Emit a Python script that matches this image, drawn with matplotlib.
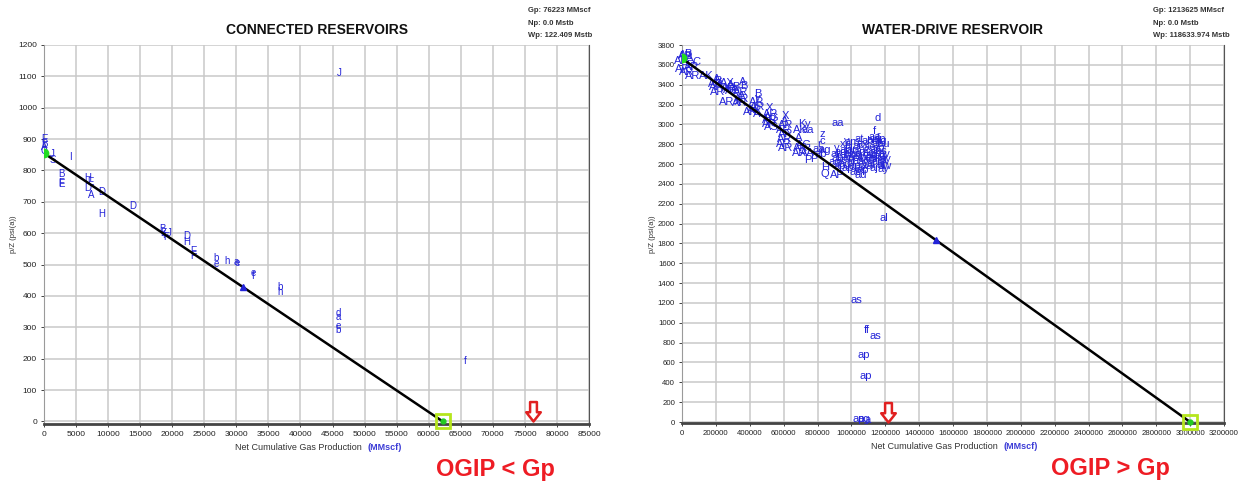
import matplotlib
matplotlib.use("Agg")
import matplotlib.pyplot as plt
from matplotlib.path import Path
import numpy as np

plt.rcParams['font.family'] = ['Liberation Sans', 'DejaVu Sans']

# ---- connected reservoirs (left) ----
left_title = "CONNECTED RESERVOIRS"
left_info = ["Gp: 76223 MMscf", "Np: 0.0 Mstb", "Wp: 122.409 Mstb"]
left_gp = 76223
left_ogip = 62200
left_line_x = [0, 62200]
left_line_y = [855, 0]
left_blue_pt = (31100, 429)
left_labels = ["E", "B", "A", "C", "I", "J", "S", "I", "B", "F", "E", "H", "E", "D",
               "A", "D", "D", "H", "B", "E", "I", "F", "J", "D", "H", "E", "F", "b",
               "e", "h", "a", "e", "e", "f", "b", "h", "d", "a", "e", "b", "f", "J"]
left_x = [0, 0, 0, 0, 0, 1300, 1300, 4200, 2700, 2700, 2700, 6850, 7300, 6850,
          7350, 9000, 13800, 9000, 18500, 18600, 18700, 19000, 19500, 22300, 22300, 23300, 23200, 26900,
          26800, 28500, 30000, 30100, 32600, 32700, 36800, 36800, 45900, 45900, 45900, 45900, 65700, 46000]
left_y = [900, 885, 875, 862, 850, 852, 835, 842, 790, 760, 756, 776, 764, 745,
          722, 730, 688, 660, 612, 602, 594, 588, 600, 590, 572, 542, 528, 520,
          503, 511, 508, 504, 474, 465, 430, 412, 347, 332, 305, 292, 192, 1112]

# ---- water-drive reservoir (right) ----
right_title = "WATER-DRIVE RESERVOIR"
right_info = ["Gp: 1213625 MMscf", "Np: 0.0 Mstb", "Wp: 118633.974 Mstb"]
right_gp = 1213625
right_ogip = 3000000
right_line_x = [0, 3000000]
right_line_y = [3665, 0]
right_blue_pt = (1500000, 1830)
right_labels = [
    "A", "AR", "B", "E", "AR", "A", "C", "AR", "AR", "AR", "AK", "AR", "R",
    "A", "B", "AR", "AR", "AR", "X",
    "AX", "A", "AR", "AR", "AR", "AG", "B",
    "A", "B", "AR", "A", "AR", "AR", "X",
    "B", "y", "AR", "AR", "AR", "AR", "A",
    "X", "AR", "A", "AR", "AR", "AS", "G",
    "X", "A", "AR", "AR", "AR", "AR", "AR", "AR",
    "K", "AK", "y", "aa", "A", "AG", "AR", "AR", "AA", "P",
    "z", "c", "r", "aa", "ag", "ab", "P", "H", "Q", "AP", "aa", "d", "f", "ad",
    "ag", "al", "y", "ab", "ap", "ad", "ae", "x", "af", "ag", "ah", "ai", "ap", "aj",
    "ak", "al", "am", "an", "ao", "ap", "aq", "ar", "as", "at", "au", "av", "aw", "ax",
    "ay", "az", "ba", "aa", "ab", "ac", "ad", "ae", "af", "ag", "ah", "ai", "aj", "ak",
    "al", "am", "an", "ao", "ap", "aq", "ar", "as", "at", "au", "av", "aw", "ay", "ay",
    "ag", "r", "aa", "y", "ap", "ae",
    "as", "ff", "as", "ap", "ap", "ap", "ag", "a", "al"]
right_x = [
    5000, 20000, 35000, 10000, 0, 45000, 84000, 5000, 30000, 65000, 145000, 60000, 50000,
    205000, 210000, 200000, 205000, 210000, 215000,
    270000, 285000, 275000, 290000, 265000, 300000, 320000,
    360000, 362000, 345000, 350000, 350000, 340000, 325000,
    447000, 447000, 440000, 445000, 430000, 405000, 440000,
    515000, 525000, 505000, 520000, 515000, 530000, 545000,
    610000, 605000, 615000, 600000, 610000, 605000, 600000, 610000,
    710000, 700000, 740000, 745000, 690000, 720000, 700000, 695000, 740000, 740000,
    827000, 830000, 812000, 805000, 840000, 820000, 780000, 845000, 845000, 915000, 918000, 1153000, 1133000, 1055000,
    900000, 905000, 915000, 920000, 930000, 935000, 945000, 950000, 955000, 960000, 968000, 975000, 980000, 985000,
    990000, 998000, 1005000, 1010000, 1015000, 1020000, 1028000, 1035000, 1040000, 1045000, 1050000, 1055000, 1060000, 1068000,
    1072000, 1078000, 1085000, 1090000, 1095000, 1100000, 1105000, 1110000, 1115000, 1120000, 1125000, 1130000, 1135000, 1140000,
    1145000, 1150000, 1155000, 1160000, 1165000, 1170000, 1175000, 1180000, 1185000, 1190000, 1195000, 1198000, 1200000, 1190000,
    1175000, 1160000, 1140000, 970000, 1065000, 1025000,
    1028000, 1093000, 1144000, 1074000, 1084000, 1045000, 1075000, 1095000, 1190000]
right_y = [
    3700, 3690, 3705, 3660, 3640, 3670, 3625, 3560, 3530, 3490, 3490, 3580, 3600,
    3460, 3440, 3410, 3380, 3330, 3420,
    3420, 3400, 3370, 3345, 3230, 3340, 3375,
    3430, 3385, 3330, 3290, 3260, 3220, 3230,
    3310, 3270, 3230, 3180, 3140, 3120, 3100,
    3160, 3100, 3070, 3040, 3000, 2970, 3060,
    3080, 3030, 2990, 2940, 2900, 2850, 2800, 2760,
    3000, 2940, 3000, 2945, 2860, 2790, 2760, 2710, 2710, 2640,
    2900, 2830, 2800, 2750, 2740, 2700, 2650, 2575, 2495, 2490, 3010, 3060, 2935, 2485,
    2620, 2700, 2760, 2660, 2580, 2720, 2640, 2800, 2690, 2600, 2740, 2660, 2560, 2780,
    2700, 2620, 2820, 2740, 2660, 2580, 2700, 2780, 2630, 2850, 2720, 2560, 2680, 2800,
    2620, 2740, 2660, 2580, 2830, 2710, 2640, 2770, 2600, 2690, 2840, 2740, 2560, 2660,
    2800, 2700, 2620, 2760, 2850, 2680, 2590, 2730, 2640, 2800, 2700, 2580, 2650, 2550,
    2830, 2880, 2870, 2830, 2540, 2520,
    1234, 928, 867, 679, 460, 27, 27, 20, 2060]

blue = "#2323d8"
arrow_path = Path([(-0.35, 2.0), (0.35, 2.0), (0.35, 0.95), (0.75, 0.95), (0.0, 0.0),
                   (-0.75, 0.95), (-0.35, 0.95), (-0.35, 2.0)],
                  [Path.MOVETO] + [Path.LINETO] * 6 + [Path.CLOSEPOLY])

fig = plt.figure(figsize=(12.38, 4.82), dpi=100)
ax1 = fig.add_axes([44 / 1238, 58 / 482, 545 / 1238, 379 / 482])
ax2 = fig.add_axes([682 / 1238, 59 / 482, 542 / 1238, 378 / 482])


def style_axes(ax, xmax, xstep, ymax, ystep, ymin, tfs):
    ax.set_xlim(0, xmax)
    ax.set_ylim(ymin, ymax)
    ax.set_xticks(np.arange(0, xmax + 1, xstep))
    ax.set_yticks(np.arange(0, ymax + 1, ystep))
    ax.set_xticklabels([f"{int(v)}" for v in np.arange(0, xmax + 1, xstep)])
    ax.grid(True, color="#c9c9c9", linewidth=1.1)
    ax.set_axisbelow(True)
    ax.tick_params(labelsize=tfs, colors="#222222", length=2, width=0.6, pad=3)
    ax.spines["top"].set_visible(False)
    ax.spines["left"].set_color("#9a9a9a")
    ax.spines["right"].set_color("#555555")
    ax.spines["right"].set_linewidth(0.8)
    ax.spines["bottom"].set_color("#444444")
    ax.spines["bottom"].set_linewidth(2.0)
    ax.set_ylabel("p/Z (psi(a))", fontsize=5.5, color="#333333", labelpad=1)
    ax.text(0.583, -0.062, "Net Cumulative Gas Production", transform=ax.transAxes,
            ha="right", va="center", fontsize=6.5, color="#333333")
    ax.text(0.593, -0.062, "(MMscf)", transform=ax.transAxes,
            ha="left", va="center", fontsize=6.5, color="#3b3bd6", fontweight="bold")


style_axes(ax1, 85000, 5000, 1200, 100, -8, 6)
style_axes(ax2, 3200000, 200000, 3800, 200, -10, 5.6)

panels = [
    (ax1, left_title, left_info, left_labels, left_x, left_y, left_line_x, left_line_y,
     left_blue_pt, left_ogip, left_gp, 7, "OGIP < Gp", 0.888, 0.829),
    (ax2, right_title, right_info, right_labels, right_x, right_y, right_line_x, right_line_y,
     right_blue_pt, right_ogip, right_gp, 8, "OGIP > Gp", 0.869, 0.79),
]

for ax, title, info, labs, xs, ys, lx, ly, bpt, ogip, gp, fs, verdict, info_x, verdict_x in panels:
    ax.set_title(title, fontsize=10, fontweight="bold", pad=8, color="#111111")
    for line, yy in zip(info, [1.090, 1.056, 1.026]):
        ax.text(info_x, yy, line, transform=ax.transAxes, ha="left",
                va="center", fontsize=5.5, color="#333333", fontweight="bold")
    for lab, x, y in zip(labs, xs, ys):
        ax.text(x, y, lab, ha="center", va="center", fontsize=fs, color=blue, clip_on=False,
                zorder=3)
    ax.plot(lx, ly, color="black", linewidth=1.8, zorder=4)
    ax.plot(lx[0], ly[0], "o", color="#22dd22", markersize=6, zorder=5)
    ax.plot(bpt[0], bpt[1], "^", color=blue, markersize=4, zorder=5)
    ax.plot(ogip, 0, "s", markerfacecolor="none", markeredgecolor="#b5e61d",
            markeredgewidth=2, markersize=10, zorder=5, clip_on=False)
    ax.plot(ogip, 0, "o", color="#22cc22", markersize=3.5, zorder=6, clip_on=False)
    ax.plot(gp, 0, marker=arrow_path, markersize=28, markerfacecolor="white",
            markeredgecolor="#e02020", markeredgewidth=1.8, zorder=6, clip_on=False)
    ax.text(verdict_x, -0.12, verdict, transform=ax.transAxes, ha="center", va="center",
            fontsize=17, fontweight="bold", color="#ee1c24")

fig.savefig("out.png", dpi=100)
